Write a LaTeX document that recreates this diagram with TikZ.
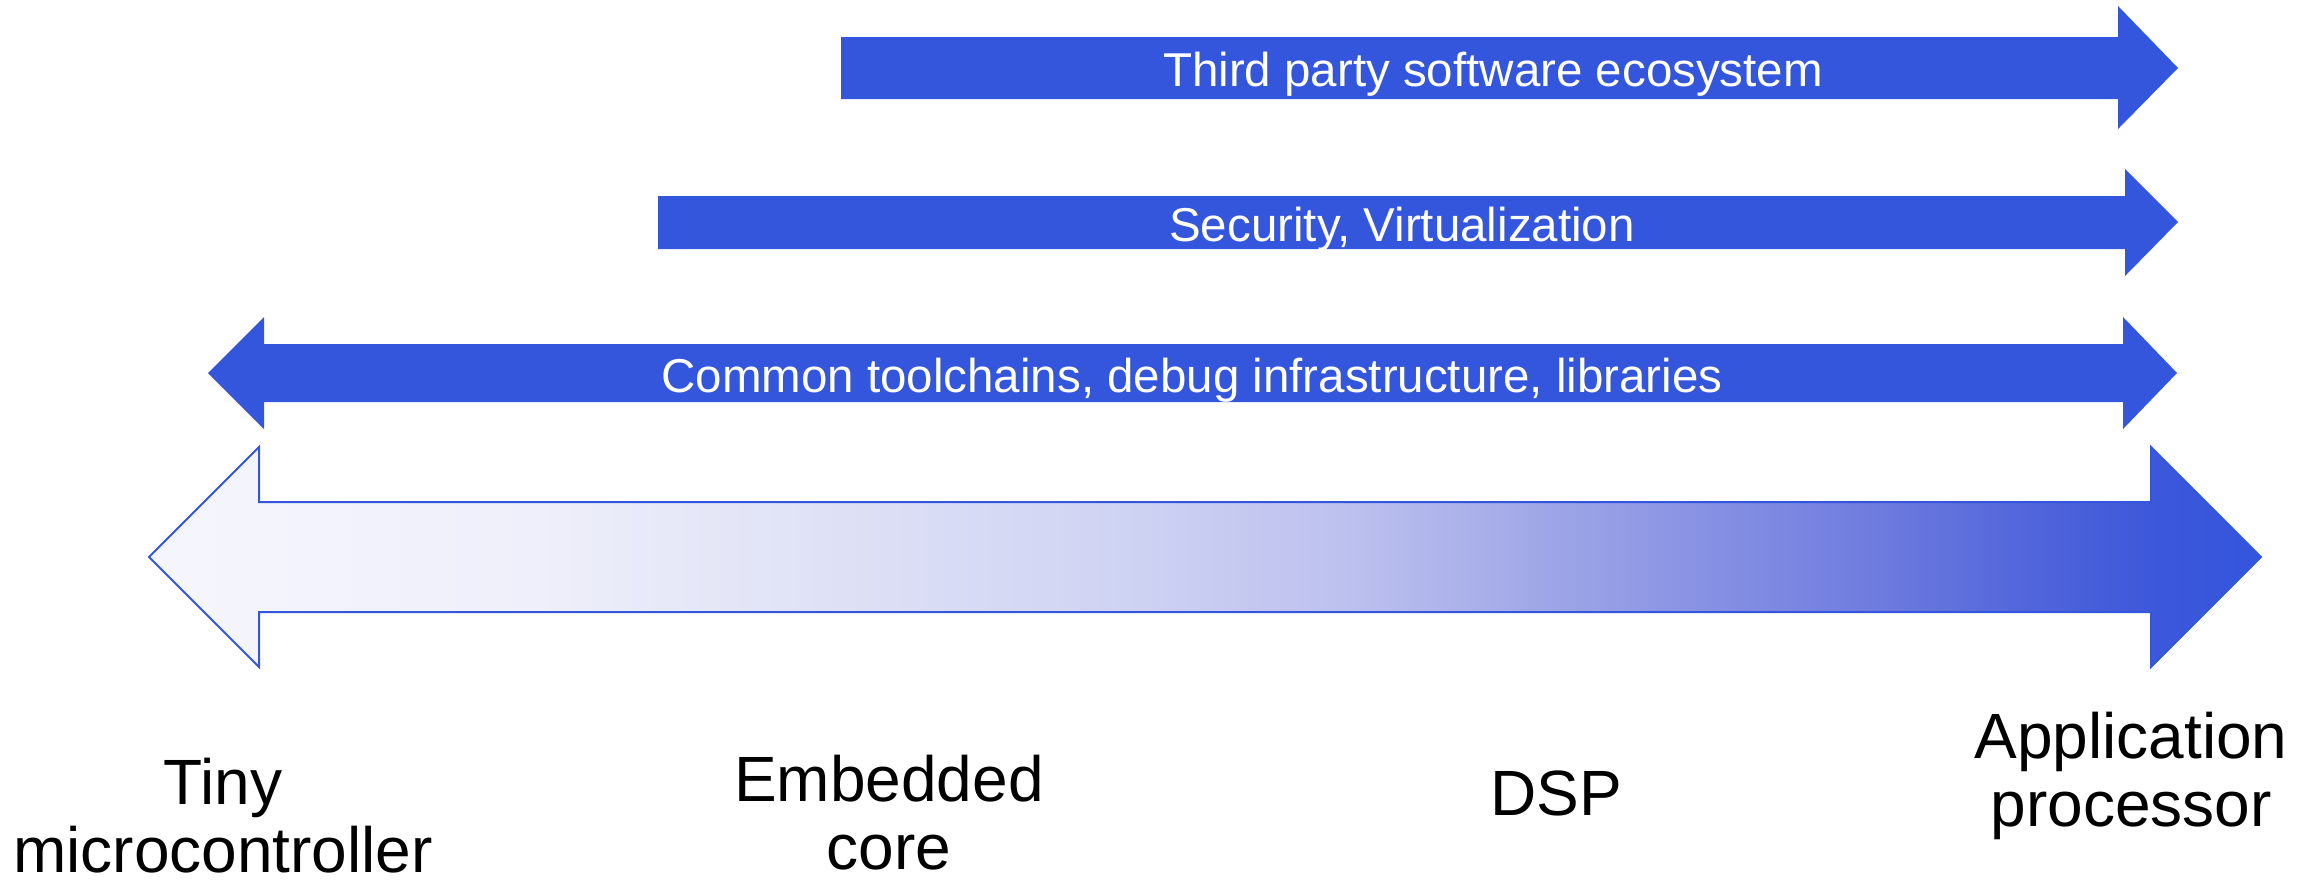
\documentclass[tikz,border=0pt]{standalone}
\usepackage{fontspec}
\setmainfont{Liberation Sans}
\definecolor{armblue}{HTML}{3456DD}
\definecolor{g0}{HTML}{F5F6FD}
\definecolor{g1}{HTML}{EEEFFA}
\definecolor{g2}{HTML}{E0E2F6}
\definecolor{g3}{HTML}{D0D4F3}
\definecolor{g4}{HTML}{BCC0EE}
\definecolor{g5}{HTML}{A1A8E7}
\definecolor{g6}{HTML}{8690E3}
\definecolor{g7}{HTML}{6B79DE}
\definecolor{g8}{HTML}{5467DB}
\definecolor{g9}{HTML}{3D58DA}
\definecolor{g10}{HTML}{3355DD}
\pgfdeclarehorizontalshading{spectrum}{100bp}{color(0bp)=(g0); color(25bp)=(g0); color(34.25bp)=(g1); color(40.5bp)=(g2); color(47.7bp)=(g3); color(53.5bp)=(g4); color(57.75bp)=(g5); color(62bp)=(g6); color(66.35bp)=(g7); color(69.2bp)=(g8); color(72.35bp)=(g9); color(75bp)=(g10); color(100bp)=(g10)}
\tikzset{
  solidarrow/.style={fill=armblue, draw=none},
  wtext/.style={text=white, inner sep=0pt, font=\fontsize{47.5}{57}\selectfont},
  btext/.style={text=black, inner sep=0pt, align=center, font=\fontsize{64}{68}\selectfont},
}
\begin{document}
\begin{tikzpicture}[x=1pt,y=-1pt]
\useasboundingbox (0,0) rectangle (2318,881);
% arrow 1
\path[solidarrow] (841,37) -- (2118,37) -- (2118,6) -- (2178,68) -- (2118,129) -- (2118,99) -- (841,99) -- cycle;
% arrow 2
\path[solidarrow] (658,196) -- (2125,196) -- (2125,169) -- (2178,222) -- (2125,276) -- (2125,249) -- (658,249) -- cycle;
% arrow 3
\path[solidarrow] (208,373) -- (264,317) -- (264,344) -- (2123,344) -- (2123,317) -- (2177,373) -- (2123,429) -- (2123,402) -- (264,402) -- (264,429) -- cycle;
% arrow 4 gradient
\path[shading=spectrum, draw=armblue, line width=2pt, line join=miter] (149,557) -- (259,447) -- (259,502) -- (2151,502) -- (2151,447) -- (2261,557) -- (2151,667) -- (2151,612) -- (259,612) -- (259,667) -- cycle;
% labels
\node[wtext, anchor=base] (t1) at (1493,86) {Third party software ecosystem};
\node[wtext, anchor=base] (t2) at (1402,241) {Security, Virtualization};
\node[wtext, anchor=base] (t3) at (1192,392) {Common toolchains, debug infrastructure, libraries};
% multi-line nodes: base anchor = baseline of the last line
\node[btext, anchor=base] (tiny) at (223,872) {Tiny\\microcontroller};
\node[btext, anchor=base] (emb) at (889,869) {Embedded\\core};
\node[btext, anchor=base] (dsp) at (1556,815) {DSP};
\node[btext, anchor=base] (app) at (2131,826) {Application\\processor};
\end{tikzpicture}
\end{document}
